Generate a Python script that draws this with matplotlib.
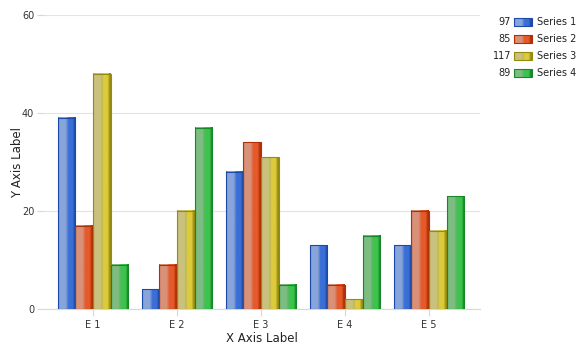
import numpy as np
import matplotlib
matplotlib.use("Agg")
import matplotlib.pyplot as plt
from matplotlib.colors import to_rgb
from matplotlib.patches import Rectangle

categories = ["E 1", "E 2", "E 3", "E 4", "E 5"]
series_names = ["Series 1", "Series 2", "Series 3", "Series 4"]
series_1 = [39, 4, 28, 13, 13]
series_2 = [17, 9, 34, 5, 20]
series_3 = [48, 20, 31, 2, 16]
series_4 = [9, 37, 5, 15, 23]
series_values = [series_1, series_2, series_3, series_4]

# light, mid, bright, dark for each series
palettes = [
    ["#88a5da", "#6d8fd0", "#3a6fd8", "#1c4aa8"],
    ["#d99178", "#d97a5a", "#e65a2a", "#b03006"],
    ["#c9c27e", "#bdb45a", "#dccb3c", "#968a10"],
    ["#7dbd82", "#62b46a", "#3cc44c", "#17872a"],
]

W, H = 584, 350
fig = plt.figure(figsize=(W / 100, H / 100), dpi=100)
ax = fig.add_axes([44 / W, 1 - 309 / H, (480 - 44) / W, (309 - 15) / H])


def gradient(pal, n=80):
    light, mid, bright, dark = [np.array(to_rgb(c)) for c in pal]
    stops = [0.0, 0.06, 0.42, 0.5, 0.58, 0.82, 0.94, 1.0]
    cols = [dark, light, light, mid, bright, bright, dark, dark]
    t = np.linspace(0, 1, n)
    arr = np.zeros((1, n, 3))
    for k in range(3):
        arr[0, :, k] = np.interp(t, stops, [c[k] for c in cols])
    return arr


bar_w = 0.21
x = np.arange(len(categories))
for i, (vals, pal) in enumerate(zip(series_values, palettes)):
    grad = gradient(pal)
    for xi, v in zip(x, vals):
        left = xi + (i - 2) * bar_w
        ax.imshow(grad, extent=[left, left + bar_w, 0, v], aspect="auto",
                  interpolation="bilinear", zorder=3)
        ax.add_patch(Rectangle((left, 0), bar_w, v, fill=False,
                               edgecolor=pal[3], linewidth=0.8, zorder=4))

ax.set_xlim(-0.583, 4.607)
ax.set_ylim(0, 60)
ax.set_yticks([0, 20, 40, 60])
ax.set_xticks(x)
ax.set_xticklabels(categories)
ax.grid(axis="y", color="#e3e3e3", linewidth=0.8, zorder=0)
for s in ["top", "right", "left"]:
    ax.spines[s].set_visible(False)
ax.spines["bottom"].set_color("#d8d8d8")
ax.tick_params(axis="y", length=5, color="#d8d8d8", labelsize=7, labelcolor="#333333", pad=2)
ax.tick_params(axis="x", length=5, color="#d8d8d8", labelsize=7, labelcolor="#333333", pad=3)
ax.set_xlabel("X Axis Label", fontsize=8.5, color="#222222", labelpad=1)
ax.set_ylabel("Y Axis Label", fontsize=8.5, color="#222222")
ax.yaxis.set_label_coords(-20 / 436, 0.5)

# legend drawn in pixel space on an overlay
lax = fig.add_axes([0, 0, 1, 1])
lax.axis("off")
for j, (name, vals, pal) in enumerate(zip(series_names, series_values, palettes)):
    yc = 22 + j * 17
    lax.text(511, yc, str(sum(vals)), ha="right", va="center", fontsize=7, color="#222222")
    lax.imshow(gradient(pal), extent=[514, 532, yc + 4, yc - 4], aspect="auto",
               interpolation="bilinear", zorder=3)
    lax.add_patch(Rectangle((514, yc - 4), 18, 8, fill=False, edgecolor=pal[3],
                            linewidth=0.8, zorder=4))
    lax.text(537, yc, name, ha="left", va="center", fontsize=7, color="#222222")
lax.set_xlim(0, W)
lax.set_ylim(H, 0)

fig.savefig("out.png", dpi=100)
